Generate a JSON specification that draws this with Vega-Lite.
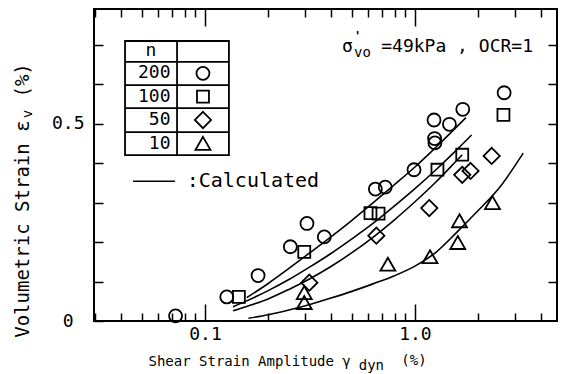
{
  "$schema": "https://vega.github.io/schema/vega-lite/v6.json",
  "width": 463,
  "height": 312,
  "autosize": {"type": "none"},
  "padding": {"left": 94, "top": 9, "right": 9, "bottom": 53},
  "background": "white",
  "config": {
    "view": {"stroke": "black", "strokeWidth": 2},
    "font": "DejaVu Sans Mono",
    "axis": {
      "domain": false,
      "grid": false,
      "tickColor": "black",
      "tickWidth": 1.5,
      "labelColor": "black",
      "labelFont": "DejaVu Sans Mono",
      "labelFontSize": 18,
      "titleColor": "black",
      "titleFont": "DejaVu Sans Mono",
      "titleFontWeight": "normal"
    }
  },
  "datasets": {
    "points": [
      {"n": "200", "gamma": 0.0724, "ev": 0.013},
      {"n": "200", "gamma": 0.127, "ev": 0.061},
      {"n": "200", "gamma": 0.179, "ev": 0.115},
      {"n": "200", "gamma": 0.255, "ev": 0.188},
      {"n": "200", "gamma": 0.306, "ev": 0.247},
      {"n": "200", "gamma": 0.37, "ev": 0.213},
      {"n": "200", "gamma": 0.648, "ev": 0.334},
      {"n": "200", "gamma": 0.722, "ev": 0.339},
      {"n": "200", "gamma": 0.99, "ev": 0.383},
      {"n": "200", "gamma": 1.233, "ev": 0.509},
      {"n": "200", "gamma": 1.24, "ev": 0.462},
      {"n": "200", "gamma": 1.245, "ev": 0.451},
      {"n": "200", "gamma": 1.46, "ev": 0.498},
      {"n": "200", "gamma": 1.69, "ev": 0.536},
      {"n": "200", "gamma": 2.66, "ev": 0.578},
      {"n": "100", "gamma": 0.145, "ev": 0.061},
      {"n": "100", "gamma": 0.297, "ev": 0.175},
      {"n": "100", "gamma": 0.614, "ev": 0.273},
      {"n": "100", "gamma": 0.671, "ev": 0.272},
      {"n": "100", "gamma": 1.28, "ev": 0.383},
      {"n": "100", "gamma": 1.68, "ev": 0.421},
      {"n": "100", "gamma": 2.64, "ev": 0.522},
      {"n": "50", "gamma": 0.314, "ev": 0.097},
      {"n": "50", "gamma": 0.655, "ev": 0.216},
      {"n": "50", "gamma": 1.17, "ev": 0.286},
      {"n": "50", "gamma": 1.68, "ev": 0.37},
      {"n": "50", "gamma": 1.84, "ev": 0.38},
      {"n": "50", "gamma": 2.32, "ev": 0.418},
      {"n": "10", "gamma": 0.297, "ev": 0.046},
      {"n": "10", "gamma": 0.297, "ev": 0.071},
      {"n": "10", "gamma": 0.743, "ev": 0.143},
      {"n": "10", "gamma": 1.18, "ev": 0.162},
      {"n": "10", "gamma": 1.6, "ev": 0.198},
      {"n": "10", "gamma": 1.63, "ev": 0.253},
      {"n": "10", "gamma": 2.34, "ev": 0.299}
    ],
    "curves": [
      {"n": "200", "gamma": 0.158, "ev": 0.059},
      {"n": "200", "gamma": 0.2, "ev": 0.095},
      {"n": "200", "gamma": 0.251, "ev": 0.133},
      {"n": "200", "gamma": 0.316, "ev": 0.173},
      {"n": "200", "gamma": 0.398, "ev": 0.213},
      {"n": "200", "gamma": 0.501, "ev": 0.255},
      {"n": "200", "gamma": 0.631, "ev": 0.299},
      {"n": "200", "gamma": 0.794, "ev": 0.344},
      {"n": "200", "gamma": 1.0, "ev": 0.39},
      {"n": "200", "gamma": 1.259, "ev": 0.44},
      {"n": "200", "gamma": 1.585, "ev": 0.492},
      {"n": "200", "gamma": 1.75, "ev": 0.515},
      {"n": "100", "gamma": 0.136, "ev": 0.036},
      {"n": "100", "gamma": 0.158, "ev": 0.051},
      {"n": "100", "gamma": 0.2, "ev": 0.077},
      {"n": "100", "gamma": 0.251, "ev": 0.105},
      {"n": "100", "gamma": 0.316, "ev": 0.137},
      {"n": "100", "gamma": 0.398, "ev": 0.171},
      {"n": "100", "gamma": 0.501, "ev": 0.208},
      {"n": "100", "gamma": 0.631, "ev": 0.247},
      {"n": "100", "gamma": 0.794, "ev": 0.29},
      {"n": "100", "gamma": 1.0, "ev": 0.335},
      {"n": "100", "gamma": 1.259, "ev": 0.383},
      {"n": "100", "gamma": 1.585, "ev": 0.434},
      {"n": "100", "gamma": 1.862, "ev": 0.471},
      {"n": "50", "gamma": 0.136, "ev": 0.026},
      {"n": "50", "gamma": 0.158, "ev": 0.037},
      {"n": "50", "gamma": 0.2, "ev": 0.056},
      {"n": "50", "gamma": 0.251, "ev": 0.08},
      {"n": "50", "gamma": 0.316, "ev": 0.107},
      {"n": "50", "gamma": 0.398, "ev": 0.138},
      {"n": "50", "gamma": 0.501, "ev": 0.173},
      {"n": "50", "gamma": 0.631, "ev": 0.212},
      {"n": "50", "gamma": 0.794, "ev": 0.255},
      {"n": "50", "gamma": 1.0, "ev": 0.302},
      {"n": "50", "gamma": 1.259, "ev": 0.352},
      {"n": "50", "gamma": 1.585, "ev": 0.407},
      {"n": "50", "gamma": 1.68, "ev": 0.421},
      {"n": "10", "gamma": 0.161, "ev": 0.007},
      {"n": "10", "gamma": 0.2, "ev": 0.016},
      {"n": "10", "gamma": 0.251, "ev": 0.028},
      {"n": "10", "gamma": 0.316, "ev": 0.042},
      {"n": "10", "gamma": 0.398, "ev": 0.058},
      {"n": "10", "gamma": 0.501, "ev": 0.075},
      {"n": "10", "gamma": 0.631, "ev": 0.094},
      {"n": "10", "gamma": 0.794, "ev": 0.114},
      {"n": "10", "gamma": 1.0, "ev": 0.139},
      {"n": "10", "gamma": 1.259, "ev": 0.174},
      {"n": "10", "gamma": 1.585, "ev": 0.225},
      {"n": "10", "gamma": 1.995, "ev": 0.279},
      {"n": "10", "gamma": 2.512, "ev": 0.336},
      {"n": "10", "gamma": 3.28, "ev": 0.425}
    ]
  },
  "layer": [
    {
      "data": {"name": "points"},
      "mark": {"type": "point", "filled": false, "stroke": "black", "strokeWidth": 1.8, "size": 169, "opacity": 1},
      "encoding": {
        "x": {
          "field": "gamma", "type": "quantitative",
          "scale": {"type": "log", "domain": [0.0296, 4.75], "nice": false},
          "axis": {
            "orient": "bottom",
            "values": [0.03, 0.04, 0.05, 0.06, 0.07, 0.08, 0.09, 0.1, 0.2, 0.3, 0.4, 0.5, 0.6, 0.7, 0.8, 0.9, 1, 2, 3, 4],
            "tickSize": {"condition": {"test": "datum.value == 0.1 || datum.value == 1", "value": -17}, "value": -8},
            "labelExpr": "datum.value == 0.1 ? '0.1' : (datum.value == 1 ? '1.0' : '')",
            "labelPadding": 21,
            "labelFlush": false,
            "labelOverlap": false,
            "title": "Shear Strain Amplitude γ",
            "titleFontSize": 14,
            "titleX": 54,
            "titleY": 40,
            "titleAlign": "left",
            "titleBaseline": "middle"
          }
        },
        "y": {
          "field": "ev", "type": "quantitative",
          "scale": {"domain": [0, 0.79], "nice": false, "zero": false},
          "axis": {
            "orient": "left",
            "values": [0, 0.1, 0.2, 0.3, 0.4, 0.5, 0.6, 0.7],
            "tickSize": -9,
            "labelExpr": "datum.value == 0 ? '0' : (datum.value == 0.5 ? '0.5' : '')",
            "labelPadding": {"condition": {"test": "datum.value == 0", "value": 30}, "value": 19},
            "labelFlush": false,
            "labelOverlap": false,
            "title": "Volumetric Strain ε\u00a0\u00a0(%)",
            "titleFontSize": 19,
            "titleX": -72,
            "titleY": 191,
            "titleAngle": -90,
            "titleAlign": "center",
            "titleBaseline": "middle"
          }
        },
        "shape": {
          "field": "n", "type": "nominal",
          "scale": {"domain": ["200", "100", "50", "10"], "range": ["circle", "M-0.92,-0.92H0.92V0.92H-0.92Z", "M0,-1.25L1.25,0L0,1.25L-1.25,0Z", "M0,-1.05L1.15,0.95L-1.15,0.95Z"]},
          "legend": null
        }
      }
    },
    {
      "data": {"name": "curves"},
      "mark": {"type": "line", "color": "black", "strokeWidth": 1.6, "interpolate": "monotone"},
      "encoding": {
        "x": {"field": "gamma", "type": "quantitative", "axis": null},
        "y": {"field": "ev", "type": "quantitative", "axis": null},
        "detail": {"field": "n"}
      }
    },
    {
      "data": {"name": "points"},
      "mark": {"type": "point", "opacity": 0},
      "encoding": {
        "x": {
          "field": "gamma", "type": "quantitative",
          "axis": {
            "orient": "top",
            "values": [0.03, 0.04, 0.05, 0.06, 0.07, 0.08, 0.09, 0.1, 0.2, 0.3, 0.4, 0.5, 0.6, 0.7, 0.8, 0.9, 1, 2, 3, 4],
            "tickSize": {"condition": {"test": "datum.value == 0.1 || datum.value == 1", "value": -17}, "value": -8},
            "labels": false,
            "title": null
          }
        },
        "y": {
          "field": "ev", "type": "quantitative",
          "axis": {
            "orient": "right",
            "values": [0.1, 0.2, 0.3, 0.4, 0.5, 0.6, 0.7],
            "tickSize": -9,
            "labels": false,
            "title": null
          }
        }
      }
    },
    {
      "data": {"values": [{}]},
      "mark": {"type": "text", "text": "dyn", "fontSize": 14, "font": "DejaVu Sans Mono", "align": "center", "baseline": "alphabetic", "color": "black"},
      "encoding": {
        "x": {"datum": 0.62, "type": "quantitative", "axis": null},
        "y": {"datum": -0.124, "type": "quantitative", "axis": null}
      }
    },
    {
      "data": {"values": [{}]},
      "mark": {"type": "text", "text": "(%)", "fontSize": 14, "font": "DejaVu Sans Mono", "align": "center", "baseline": "middle", "color": "black"},
      "encoding": {
        "x": {"datum": 0.989, "type": "quantitative", "axis": null},
        "y": {"datum": -0.101, "type": "quantitative", "axis": null}
      }
    },
    {
      "data": {"values": [{}]},
      "mark": {"type": "text", "text": "v", "fontSize": 14, "font": "DejaVu Sans Mono", "align": "center", "baseline": "middle", "angle": 270, "color": "black"},
      "encoding": {
        "x": {"datum": 0.01436, "type": "quantitative", "axis": null},
        "y": {"datum": 0.524, "type": "quantitative", "axis": null}
      }
    },
    {
      "data": {"values": [{}]},
      "mark": {"type": "rect", "fill": "transparent", "stroke": "black", "strokeWidth": 1.8},
      "encoding": {
        "x": {"datum": 0.0416, "type": "quantitative", "axis": null},
        "x2": {"datum": 0.13},
        "y": {"datum": 0.709, "type": "quantitative", "axis": null},
        "y2": {"datum": 0.42}
      }
    },
    {
      "data": {"values": [{}]},
      "mark": {"type": "rule", "color": "black", "strokeWidth": 1.8},
      "encoding": {
        "x": {"datum": 0.0736, "type": "quantitative", "axis": null},
        "y": {"datum": 0.709, "type": "quantitative", "axis": null},
        "y2": {"datum": 0.42}
      }
    },
    {
      "data": {"values": [{}]},
      "mark": {"type": "rule", "color": "black", "strokeWidth": 1.8},
      "encoding": {
        "x": {"datum": 0.0416, "type": "quantitative", "axis": null},
        "x2": {"datum": 0.13},
        "y": {"datum": 0.656, "type": "quantitative", "axis": null}
      }
    },
    {
      "data": {"values": [{}]},
      "mark": {"type": "rule", "color": "black", "strokeWidth": 1.8},
      "encoding": {
        "x": {"datum": 0.0416, "type": "quantitative", "axis": null},
        "x2": {"datum": 0.13},
        "y": {"datum": 0.597, "type": "quantitative", "axis": null}
      }
    },
    {
      "data": {"values": [{}]},
      "mark": {"type": "rule", "color": "black", "strokeWidth": 1.8},
      "encoding": {
        "x": {"datum": 0.0416, "type": "quantitative", "axis": null},
        "x2": {"datum": 0.13},
        "y": {"datum": 0.539, "type": "quantitative", "axis": null}
      }
    },
    {
      "data": {"values": [{}]},
      "mark": {"type": "rule", "color": "black", "strokeWidth": 1.8},
      "encoding": {
        "x": {"datum": 0.0416, "type": "quantitative", "axis": null},
        "x2": {"datum": 0.13},
        "y": {"datum": 0.478, "type": "quantitative", "axis": null}
      }
    },
    {
      "data": {"values": [{}]},
      "mark": {"type": "text", "text": "n", "fontSize": 18, "font": "DejaVu Sans Mono", "align": "center", "baseline": "middle", "color": "black"},
      "encoding": {
        "x": {"datum": 0.0553, "type": "quantitative", "axis": null},
        "y": {"datum": 0.684, "type": "quantitative", "axis": null}
      }
    },
    {
      "data": {"values": [{}]},
      "mark": {"type": "text", "text": "200", "fontSize": 18, "font": "DejaVu Sans Mono", "align": "right", "baseline": "middle", "color": "black"},
      "encoding": {
        "x": {"datum": 0.0685, "type": "quantitative", "axis": null},
        "y": {"datum": 0.627, "type": "quantitative", "axis": null}
      }
    },
    {
      "data": {"values": [{}]},
      "mark": {"type": "text", "text": "100", "fontSize": 18, "font": "DejaVu Sans Mono", "align": "right", "baseline": "middle", "color": "black"},
      "encoding": {
        "x": {"datum": 0.0685, "type": "quantitative", "axis": null},
        "y": {"datum": 0.568, "type": "quantitative", "axis": null}
      }
    },
    {
      "data": {"values": [{}]},
      "mark": {"type": "text", "text": "50", "fontSize": 18, "font": "DejaVu Sans Mono", "align": "right", "baseline": "middle", "color": "black"},
      "encoding": {
        "x": {"datum": 0.0685, "type": "quantitative", "axis": null},
        "y": {"datum": 0.509, "type": "quantitative", "axis": null}
      }
    },
    {
      "data": {"values": [{}]},
      "mark": {"type": "text", "text": "10", "fontSize": 18, "font": "DejaVu Sans Mono", "align": "right", "baseline": "middle", "color": "black"},
      "encoding": {
        "x": {"datum": 0.0685, "type": "quantitative", "axis": null},
        "y": {"datum": 0.449, "type": "quantitative", "axis": null}
      }
    },
    {
      "data": {"values": [{}]},
      "mark": {"type": "point", "filled": false, "stroke": "black", "strokeWidth": 1.8, "size": 169, "opacity": 1},
      "encoding": {
        "x": {"datum": 0.0978, "type": "quantitative", "axis": null},
        "y": {"datum": 0.627, "type": "quantitative", "axis": null},
        "shape": {"datum": "200", "type": "nominal", "legend": null}
      }
    },
    {
      "data": {"values": [{}]},
      "mark": {"type": "point", "filled": false, "stroke": "black", "strokeWidth": 1.8, "size": 169, "opacity": 1},
      "encoding": {
        "x": {"datum": 0.0978, "type": "quantitative", "axis": null},
        "y": {"datum": 0.568, "type": "quantitative", "axis": null},
        "shape": {"datum": "100", "type": "nominal", "legend": null}
      }
    },
    {
      "data": {"values": [{}]},
      "mark": {"type": "point", "filled": false, "stroke": "black", "strokeWidth": 1.8, "size": 169, "opacity": 1},
      "encoding": {
        "x": {"datum": 0.0978, "type": "quantitative", "axis": null},
        "y": {"datum": 0.509, "type": "quantitative", "axis": null},
        "shape": {"datum": "50", "type": "nominal", "legend": null}
      }
    },
    {
      "data": {"values": [{}]},
      "mark": {"type": "point", "filled": false, "stroke": "black", "strokeWidth": 1.8, "size": 169, "opacity": 1},
      "encoding": {
        "x": {"datum": 0.0978, "type": "quantitative", "axis": null},
        "y": {"datum": 0.449, "type": "quantitative", "axis": null},
        "shape": {"datum": "10", "type": "nominal", "legend": null}
      }
    },
    {
      "data": {"values": [{}]},
      "mark": {"type": "rule", "color": "black", "strokeWidth": 1.6},
      "encoding": {
        "x": {"datum": 0.0454, "type": "quantitative", "axis": null},
        "x2": {"datum": 0.072},
        "y": {"datum": 0.354, "type": "quantitative", "axis": null}
      }
    },
    {
      "data": {"values": [{}]},
      "mark": {"type": "text", "text": ":Calculated", "fontSize": 20, "font": "DejaVu Sans Mono", "align": "left", "baseline": "middle", "color": "black"},
      "encoding": {
        "x": {"datum": 0.0818, "type": "quantitative", "axis": null},
        "y": {"datum": 0.354, "type": "quantitative", "axis": null}
      }
    },
    {
      "data": {"values": [{}]},
      "mark": {"type": "text", "text": "=49kPa , OCR=1", "fontSize": 18, "font": "DejaVu Sans Mono", "align": "right", "baseline": "middle", "color": "black"},
      "encoding": {
        "x": {"datum": 3.65, "type": "quantitative", "axis": null},
        "y": {"datum": 0.694, "type": "quantitative", "axis": null}
      }
    },
    {
      "data": {"values": [{}]},
      "mark": {"type": "text", "text": "σ", "fontSize": 18, "font": "DejaVu Sans Mono", "align": "left", "baseline": "middle", "dx": -191, "color": "black"},
      "encoding": {
        "x": {"datum": 3.65, "type": "quantitative", "axis": null},
        "y": {"datum": 0.694, "type": "quantitative", "axis": null}
      }
    },
    {
      "data": {"values": [{}]},
      "mark": {"type": "text", "text": "vo", "fontSize": 14, "font": "DejaVu Sans Mono", "align": "left", "baseline": "middle", "dx": -179, "dy": 6, "color": "black"},
      "encoding": {
        "x": {"datum": 3.65, "type": "quantitative", "axis": null},
        "y": {"datum": 0.694, "type": "quantitative", "axis": null}
      }
    },
    {
      "data": {"values": [{}]},
      "mark": {"type": "text", "text": "'", "fontSize": 12, "font": "DejaVu Sans Mono", "fontWeight": "bold", "align": "left", "baseline": "middle", "dx": -179, "dy": -11, "color": "black"},
      "encoding": {
        "x": {"datum": 3.65, "type": "quantitative", "axis": null},
        "y": {"datum": 0.694, "type": "quantitative", "axis": null}
      }
    }
  ],
  "resolve": {"axis": {"x": "independent", "y": "independent"}}
}
